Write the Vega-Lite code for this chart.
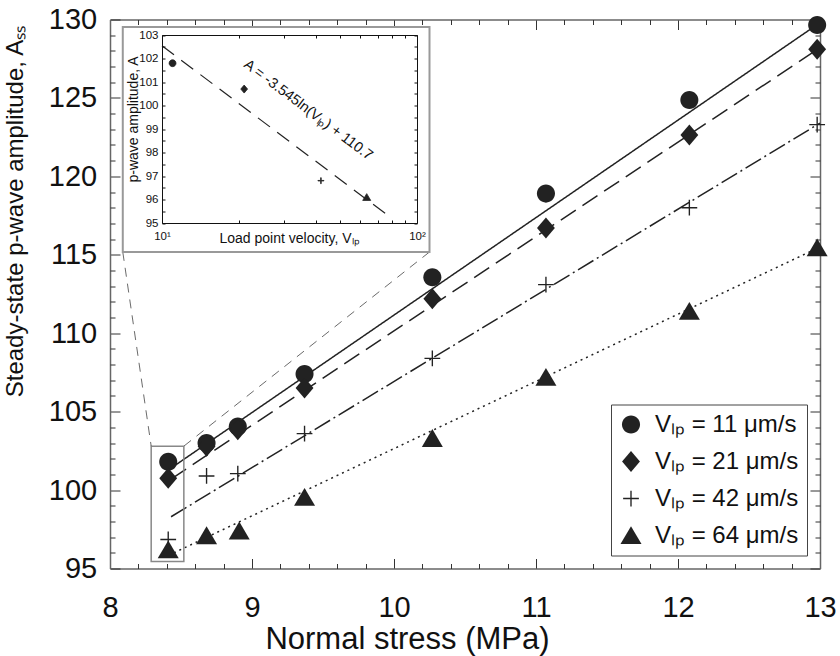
{
  "$schema": "https://vega.github.io/schema/vega-lite/v6.json",
  "width": 710,
  "height": 549,
  "autosize": {"type": "none"},
  "padding": {"left": 110, "top": 19.5, "right": 20, "bottom": 87.5},
  "background": "white",
  "config": {
    "view": {"stroke": null},
    "font": "Liberation Sans",
    "axis": {"grid": false, "labelFont": "Liberation Sans", "titleFont": "Liberation Sans", "labelColor": "#111", "titleColor": "#111", "titleFontWeight": "normal", "labelFlush": false, "labelOverlap": false}
  },
  "datasets": {
    "pts": [
      {"series": "Vₗₚ = 11 μm/s", "x": 8.41, "y": 101.8},
      {"series": "Vₗₚ = 11 μm/s", "x": 8.68, "y": 103.0},
      {"series": "Vₗₚ = 11 μm/s", "x": 8.90, "y": 104.05},
      {"series": "Vₗₚ = 11 μm/s", "x": 9.37, "y": 107.4},
      {"series": "Vₗₚ = 11 μm/s", "x": 10.27, "y": 113.57},
      {"series": "Vₗₚ = 11 μm/s", "x": 11.07, "y": 118.9},
      {"series": "Vₗₚ = 11 μm/s", "x": 12.08, "y": 124.87},
      {"series": "Vₗₚ = 11 μm/s", "x": 12.98, "y": 129.65},
      {"series": "Vₗₚ = 21 μm/s", "x": 8.41, "y": 100.75},
      {"series": "Vₗₚ = 21 μm/s", "x": 8.68, "y": 102.8},
      {"series": "Vₗₚ = 21 μm/s", "x": 8.90, "y": 103.85},
      {"series": "Vₗₚ = 21 μm/s", "x": 9.37, "y": 106.5},
      {"series": "Vₗₚ = 21 μm/s", "x": 10.27, "y": 112.2},
      {"series": "Vₗₚ = 21 μm/s", "x": 11.07, "y": 116.7},
      {"series": "Vₗₚ = 21 μm/s", "x": 12.08, "y": 122.64},
      {"series": "Vₗₚ = 21 μm/s", "x": 12.98, "y": 128.1},
      {"series": "Vₗₚ = 42 μm/s", "x": 8.41, "y": 96.85},
      {"series": "Vₗₚ = 42 μm/s", "x": 8.68, "y": 100.9},
      {"series": "Vₗₚ = 42 μm/s", "x": 8.90, "y": 101.05},
      {"series": "Vₗₚ = 42 μm/s", "x": 9.37, "y": 103.6},
      {"series": "Vₗₚ = 42 μm/s", "x": 10.27, "y": 108.4},
      {"series": "Vₗₚ = 42 μm/s", "x": 11.07, "y": 113.1},
      {"series": "Vₗₚ = 42 μm/s", "x": 12.08, "y": 118.0},
      {"series": "Vₗₚ = 42 μm/s", "x": 12.98, "y": 123.3},
      {"series": "Vₗₚ = 64 μm/s", "x": 8.41, "y": 96.2},
      {"series": "Vₗₚ = 64 μm/s", "x": 8.68, "y": 97.1},
      {"series": "Vₗₚ = 64 μm/s", "x": 8.91, "y": 97.4},
      {"series": "Vₗₚ = 64 μm/s", "x": 9.37, "y": 99.55},
      {"series": "Vₗₚ = 64 μm/s", "x": 10.27, "y": 103.3},
      {"series": "Vₗₚ = 64 μm/s", "x": 11.07, "y": 107.2},
      {"series": "Vₗₚ = 64 μm/s", "x": 12.08, "y": 111.4},
      {"series": "Vₗₚ = 64 μm/s", "x": 12.98, "y": 115.45}
    ],
    "fits": [
      {"line": "fit11", "x": 8.43, "y": 101.4},
      {"line": "fit11", "x": 13.0, "y": 129.8},
      {"line": "fit21", "x": 8.43, "y": 100.7},
      {"line": "fit21", "x": 13.0, "y": 128.2},
      {"line": "fit42", "x": 8.43, "y": 98.3},
      {"line": "fit42", "x": 13.0, "y": 123.4},
      {"line": "fit64", "x": 8.45, "y": 96.0},
      {"line": "fit64", "x": 13.0, "y": 115.5}
    ],
    "zoombox": [{"x1": 8.29, "x2": 8.52, "y1": 95.44, "y2": 102.8}],
    "connectors": [
      {"x1": 8.09, "y1": 115.18, "x2": 8.29, "y2": 102.8},
      {"x1": 10.25, "y1": 115.18, "x2": 8.52, "y2": 102.8}
    ],
    "insetbox": [{"x1": 8.09, "x2": 10.25, "y1": 115.18, "y2": 129.52}],
    "insetpts": [
      {"series": "Vₗₚ = 11 μm/s", "v": 11, "a": 101.8},
      {"series": "Vₗₚ = 21 μm/s", "v": 21, "a": 100.7},
      {"series": "Vₗₚ = 42 μm/s", "v": 42, "a": 96.8},
      {"series": "Vₗₚ = 64 μm/s", "v": 63.5, "a": 96.1}
    ],
    "insetfit": [{"v": 10, "a": 102.54}, {"v": 79.6, "a": 95.2}],
    "insetlabel": [{"v": 37.4, "a": 99.8, "label": "A = -3.545ln(Vₗₚ) + 110.7"}]
  },
  "layer": [
    {
      "layer": [
        {
          "data": {"name": "fits"},
          "mark": {"type": "line", "color": "#222", "strokeWidth": 1.5},
          "encoding": {
            "x": {"field": "x", "type": "quantitative", "scale": {"domain": [8, 13], "nice": false, "zero": false},
              "axis": {"orient": "bottom", "values": [8, 9, 10, 11, 12, 13], "tickSize": -10, "labelPadding": 35, "labelFontSize": 29, "title": "Normal stress (MPa)", "titleFontSize": 31, "titleX": 297, "titleY": 79.5, "titleBaseline": "alphabetic", "domainColor": "#666", "domainWidth": 1.5, "tickColor": "#333", "tickWidth": 1}},
            "y": {"field": "y", "type": "quantitative", "scale": {"domain": [95, 130], "nice": false, "zero": false},
              "axis": {"orient": "left", "values": [95, 100, 105, 110, 115, 120, 125, 130], "tickSize": -10, "labelPadding": 23.3, "labelFontSize": 29, "title": "Steady-state p-wave amplitude, Aₛₛ", "titleFontSize": 24, "titleX": -95, "titleY": 191.5, "titleBaseline": "middle", "titleAngle": -90, "domainColor": "#666", "domainWidth": 1.5, "tickColor": "#333", "tickWidth": 1}},
            "strokeDash": {"field": "line", "type": "nominal", "scale": {"domain": ["fit11", "fit21", "fit42", "fit64"], "range": [[1, 0], [18, 8], [18, 4, 2, 4], [2, 4]]}, "legend": null}
          }
        },
        {
          "data": {"name": "pts"},
          "mark": {"type": "point", "size": 441, "filled": true, "fill": "#222", "strokeWidth": 0, "opacity": 1},
          "encoding": {
            "x": {"field": "x", "type": "quantitative", "scale": {"domain": [8, 13], "nice": false, "zero": false},
              "axis": {"orient": "bottom", "values": [8.2, 8.4, 8.6, 8.8, 9.2, 9.4, 9.6, 9.8, 10.2, 10.4, 10.6, 10.8, 11.2, 11.4, 11.6, 11.8, 12.2, 12.4, 12.6, 12.8], "tickSize": -5, "labels": false, "domain": false, "title": null, "tickColor": "#333"}},
            "y": {"field": "y", "type": "quantitative", "scale": {"domain": [95, 130], "nice": false, "zero": false},
              "axis": {"orient": "left", "values": [96, 97, 98, 99, 101, 102, 103, 104, 106, 107, 108, 109, 111, 112, 113, 114, 116, 117, 118, 119, 121, 122, 123, 124, 126, 127, 128, 129], "tickSize": -5, "labels": false, "domain": false, "title": null, "tickColor": "#333"}},
            "shape": {"field": "series", "type": "nominal",
              "scale": {"domain": ["Vₗₚ = 11 μm/s", "Vₗₚ = 21 μm/s", "Vₗₚ = 42 μm/s", "Vₗₚ = 64 μm/s"],
                "range": ["M0.86,0A0.86,0.86,0,1,1,-0.86,0A0.86,0.86,0,1,1,0.86,0Z", "M0,-1L0.85,0L0,1L-0.85,0Z", "M-0.75,-0.065H-0.065V-0.75H0.065V-0.065H0.75V0.065H0.065V0.75H-0.065V0.065H-0.75Z", "M0,-0.88L1,0.82L-1,0.82Z"]},
              "legend": {"title": null, "orient": "bottom-right", "offset": 13, "labelFont": "Liberation Sans", "labelFontSize": 24, "labelColor": "#111", "symbolSize": 441, "symbolFillColor": "#222", "symbolStrokeWidth": 0, "symbolOpacity": 1, "strokeColor": "#444", "fillColor": "white", "padding": 8, "rowPadding": 13, "labelOffset": 12, "zindex": 3}}
          }
        },
        {
          "data": {"name": "zoombox"},
          "mark": {"type": "rect", "fill": null, "fillOpacity": 0, "stroke": "#888", "strokeWidth": 1.5},
          "encoding": {
            "x": {"field": "x1", "type": "quantitative", "scale": {"domain": [8, 13], "nice": false, "zero": false},
              "axis": {"orient": "top", "values": [8, 9, 10, 11, 12, 13], "tickSize": -10, "labels": false, "title": null, "domainColor": "#666", "domainWidth": 1.5, "tickColor": "#333"}},
            "x2": {"field": "x2"},
            "y": {"field": "y1", "type": "quantitative", "scale": {"domain": [95, 130], "nice": false, "zero": false},
              "axis": {"orient": "right", "values": [95, 100, 105, 110, 115, 120, 125, 130], "tickSize": -10, "labels": false, "title": null, "domainColor": "#666", "domainWidth": 1.5, "tickColor": "#333"}},
            "y2": {"field": "y2"}
          }
        },
        {
          "data": {"name": "connectors"},
          "mark": {"type": "rule", "color": "#444", "strokeWidth": 0.8, "strokeDash": [9, 7]},
          "encoding": {
            "x": {"field": "x1", "type": "quantitative", "scale": {"domain": [8, 13], "nice": false, "zero": false},
              "axis": {"orient": "top", "values": [8.2, 8.4, 8.6, 8.8, 9.2, 9.4, 9.6, 9.8, 10.2, 10.4, 10.6, 10.8, 11.2, 11.4, 11.6, 11.8, 12.2, 12.4, 12.6, 12.8], "tickSize": -5, "labels": false, "domain": false, "title": null, "tickColor": "#333"}},
            "x2": {"field": "x2"},
            "y": {"field": "y1", "type": "quantitative", "scale": {"domain": [95, 130], "nice": false, "zero": false},
              "axis": {"orient": "right", "values": [96, 97, 98, 99, 101, 102, 103, 104, 106, 107, 108, 109, 111, 112, 113, 114, 116, 117, 118, 119, 121, 122, 123, 124, 126, 127, 128, 129], "tickSize": -5, "labels": false, "domain": false, "title": null, "tickColor": "#333"}},
            "y2": {"field": "y2"}
          }
        },
        {
          "data": {"name": "insetbox"},
          "mark": {"type": "rect", "fill": "white", "stroke": "#999", "strokeWidth": 2},
          "encoding": {
            "x": {"field": "x1", "type": "quantitative", "scale": {"domain": [8, 13], "nice": false, "zero": false}, "axis": null},
            "x2": {"field": "x2"},
            "y": {"field": "y1", "type": "quantitative", "scale": {"domain": [95, 130], "nice": false, "zero": false}, "axis": null},
            "y2": {"field": "y2"}
          }
        }
      ],
      "resolve": {"axis": {"x": "independent", "y": "independent"}}
    },
    {
      "layer": [
        {
          "data": {"name": "insetfit"},
          "mark": {"type": "line", "color": "#222", "strokeWidth": 1.2, "strokeDash": [15, 9]},
          "encoding": {
            "x": {"field": "v", "type": "quantitative", "scale": {"type": "log", "domain": [10, 100], "range": [52, 307], "nice": false},
              "axis": {"orient": "bottom", "offset": -345.5, "zindex": 2, "values": [10, 20, 30, 40, 50, 60, 70, 80, 90, 100], "labelExpr": "datum.value == 10 ? '10¹' : (datum.value == 100 ? '10²' : '')", "tickSize": -3, "labelPadding": 10, "labelFontSize": 11.5, "title": "Load point velocity, Vₗₚ", "titleFontSize": 14, "titleX": 179, "titleY": 15, "titleBaseline": "middle", "domainColor": "#111", "tickColor": "#111"}},
            "y": {"field": "a", "type": "quantitative", "scale": {"domain": [95, 103], "range": [203.5, 15.5], "nice": false, "zero": false},
              "axis": {"orient": "left", "offset": -52, "zindex": 2, "values": [95, 95.5, 96, 96.5, 97, 97.5, 98, 98.5, 99, 99.5, 100, 100.5, 101, 101.5, 102, 102.5, 103], "labelExpr": "datum.value % 1 == 0 ? '' + datum.value : ''", "tickSize": -3, "labelPadding": 7, "labelFontSize": 11.5, "title": "p-wave amplitude, A", "titleFontSize": 14, "titleX": -29, "titleY": 99.5, "titleBaseline": "middle", "titleAngle": -90, "domainColor": "#111", "tickColor": "#111"}}
          }
        },
        {
          "data": {"name": "insetpts"},
          "mark": {"type": "point", "size": 64, "filled": true, "fill": "#222", "stroke": "#222", "strokeWidth": 0.8, "opacity": 1},
          "encoding": {
            "x": {"field": "v", "type": "quantitative", "scale": {"type": "log", "domain": [10, 100], "range": [52, 307], "nice": false},
              "axis": {"orient": "top", "offset": -15.5, "zindex": 2, "values": [10, 20, 30, 40, 50, 60, 70, 80, 90, 100], "tickSize": -3, "labels": false, "title": null, "domainColor": "#111", "tickColor": "#111"}},
            "y": {"field": "a", "type": "quantitative", "scale": {"domain": [95, 103], "range": [203.5, 15.5], "nice": false, "zero": false},
              "axis": {"orient": "right", "offset": -403, "zindex": 2, "values": [95, 95.5, 96, 96.5, 97, 97.5, 98, 98.5, 99, 99.5, 100, 100.5, 101, 101.5, 102, 102.5, 103], "tickSize": -3, "labels": false, "title": null, "domainColor": "#111", "tickColor": "#111"}},
            "shape": {"field": "series", "type": "nominal"}
          }
        },
        {
          "data": {"name": "insetlabel"},
          "mark": {"type": "text", "angle": 37, "fontSize": 14.5, "font": "Liberation Sans", "color": "#111", "align": "center", "baseline": "middle"},
          "encoding": {
            "x": {"field": "v", "type": "quantitative", "scale": {"type": "log", "domain": [10, 100], "range": [52, 307], "nice": false}, "axis": null},
            "y": {"field": "a", "type": "quantitative", "scale": {"domain": [95, 103], "range": [203.5, 15.5], "nice": false, "zero": false}, "axis": null},
            "text": {"field": "label"}
          }
        }
      ],
      "resolve": {"axis": {"x": "independent", "y": "independent"}}
    }
  ],
  "resolve": {"scale": {"x": "independent", "y": "independent"}}
}
